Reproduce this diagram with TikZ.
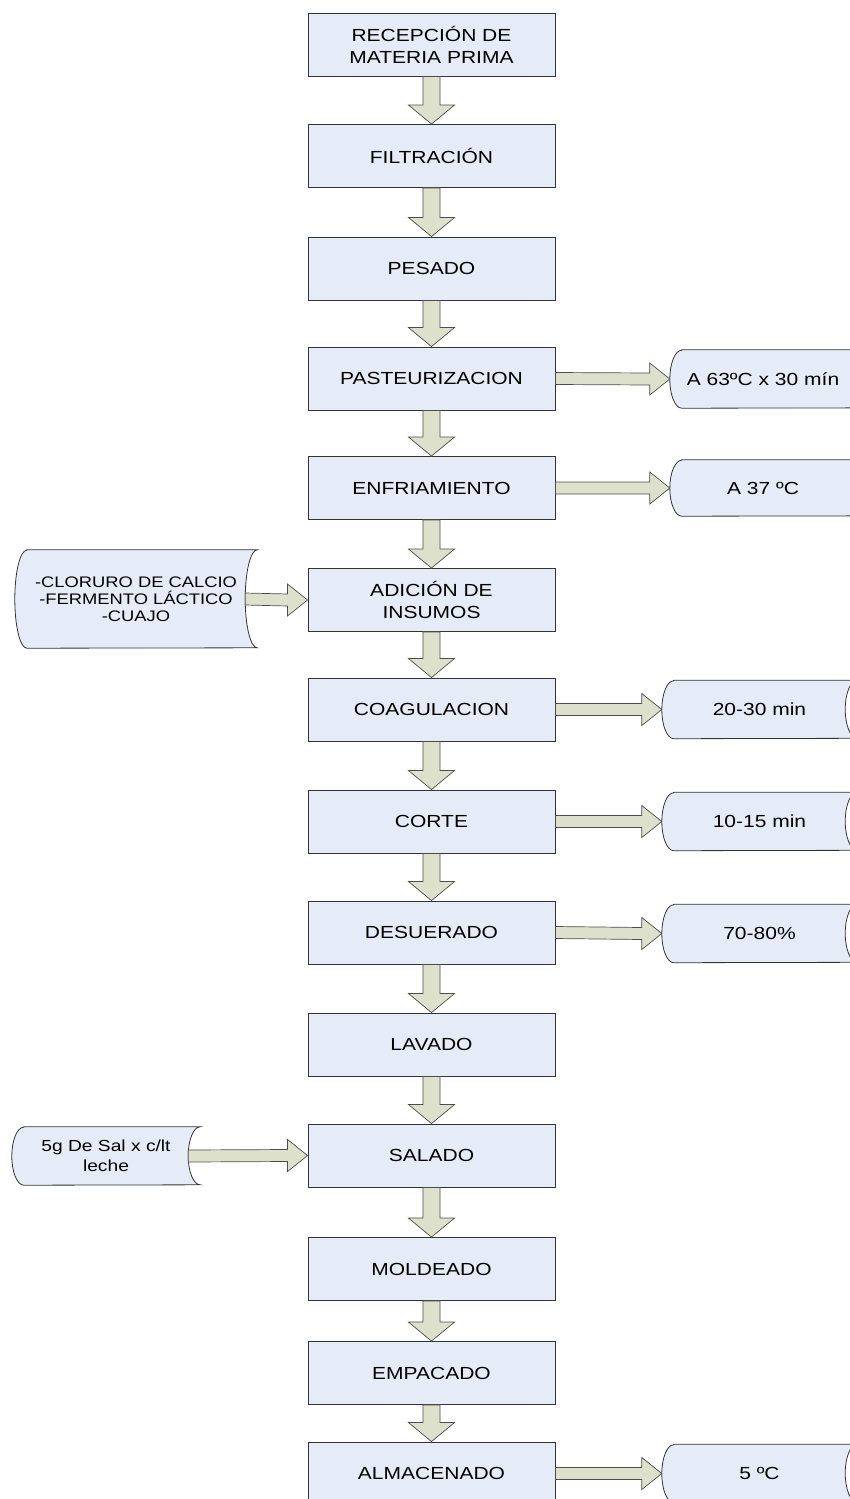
\documentclass[tikz,border=0pt]{standalone}
\usepackage{fontspec}
\setmainfont{Liberation Sans}[FakeStretch=1.2]
\usepackage{tikz}
\usetikzlibrary{positioning, calc, backgrounds}
\definecolor{boxfill}{HTML}{E6ECF7}
\definecolor{boxline}{HTML}{333333}
\definecolor{arrowfill}{HTML}{DDE1CB}
\definecolor{arrowline}{HTML}{4D4D4D}
\tikzset{
  procbox/.style={draw=boxline, line width=0.9pt, fill=boxfill, minimum width=247pt,
    minimum height=63pt, inner sep=0pt, align=center, font=\fontsize{17.5}{22}\selectfont},
  storetext/.style={inner sep=0pt, align=center, font=\fontsize{17.5}{22}\selectfont},
  storebox/.style={draw=boxline, line width=0.8pt, fill=boxfill},
  blockarrow/.style={draw=arrowline, line width=0.7pt, fill=arrowfill, line join=miter}
}
\newcommand{\flowdown}[2]{%
  \draw[blockarrow] ($(#1.south)+(-8.5,0)$) -- ($(#2.north)+(-8.5,19)$) -- ($(#2.north)+(-23,19)$)
    -- (#2.north) -- ($(#2.north)+(23,19)$) -- ($(#2.north)+(8.5,19)$) -- ($(#1.south)+(8.5,0)$) -- cycle;}
\newcommand{\flowright}[2]{%
  \draw[blockarrow] ($(#1)+(0,6)$) -- ($(#2)+(-20,6)$) -- ($(#2)+(-20,16)$) -- (#2)
    -- ($(#2)+(-20,-16)$) -- ($(#2)+(-20,-6)$) -- ($(#1)+(0,-6)$) -- cycle;}
\newcommand{\storenode}[7][]{%
  \node[storetext, #1, minimum width=#4pt, minimum height=#5pt] (#2) at (#3) {#6};
  \begin{pgfonlayer}{background}
    \draw[storebox] ($(#2.north west)+(12,0)$) -- ($(#2.north east)+(#7,0)$)
      arc[start angle=90, end angle=270, x radius=12, y radius=#5/2]
      -- ($(#2.south west)+(12,0)$)
      arc[start angle=270, end angle=90, x radius=12, y radius=#5/2] -- cycle;
  \end{pgfonlayer}}

\begin{document}
\begin{tikzpicture}[x=1pt, y=1pt]
  \useasboundingbox (0,0) rectangle (850,-1499);
  \clip (0,0) rectangle (850,-1499);

  \node[procbox] (recep) at (431.5,-44.5) {RECEPCIÓN DE\\MATERIA PRIMA};
  \node[procbox] (filt) at (431.5,-156) {FILTRACIÓN};
  \node[procbox] (pesado) at (431.5,-268.5) {PESADO};
  \node[procbox] (past) at (431.5,-378.5) {PASTEURIZACION};
  \node[procbox] (enfr) at (431.5,-488) {ENFRIAMIENTO};
  \node[procbox] (adic) at (431.5,-600) {ADICIÓN DE\\INSUMOS};
  \node[procbox] (coag) at (431.5,-709.5) {COAGULACION};
  \node[procbox] (corte) at (431.5,-821.5) {CORTE};
  \node[procbox] (desu) at (431.5,-932.5) {DESUERADO};
  \node[procbox] (lavado) at (431.5,-1044.5) {LAVADO};
  \node[procbox] (salado) at (431.5,-1155.5) {SALADO};
  \node[procbox] (molde) at (431.5,-1269) {MOLDEADO};
  \node[procbox] (empac) at (431.5,-1373) {EMPACADO};
  \node[procbox] (almac) at (431.5,-1473.5) {ALMACENADO};

  \foreach \a/\b in {recep/filt, filt/pesado, pesado/past, past/enfr, enfr/adic, adic/coag,
      coag/corte, corte/desu, desu/lavado, lavado/salado, salado/molde, molde/empac, empac/almac}
    \flowdown{\a}{\b};

  \storenode{pastout}{763,-379}{186}{58}{A 63ºC x 30 mín}{40}
  \storenode{enfrout}{763,-488}{186}{56}{A 37 ºC}{40}
  \storenode{coagout}{759.5,-709.5}{195}{58}{20-30 min}{0}
  \storenode{corteout}{759.5,-821.5}{195}{58}{10-15 min}{0}
  \storenode{desuout}{759.5,-933.5}{195}{58}{70-80\%}{0}
  \storenode{almout}{759.5,-1473.5}{195}{58}{5 ºC}{0}
  \storenode[font=\fontsize{15.3}{17}\selectfont]{insumos}{136,-599}{242}{98}%
    {-CLORURO DE CALCIO\\-FERMENTO LÁCTICO\\-CUAJO}{0}
  \storenode[font=\fontsize{16}{20}\selectfont]{sal}{106,-1156}{188}{58}%
    {5g De Sal x c/lt\\leche}{0}

  \coordinate (insumosR) at ($(insumos.east)+(-12,0)$);
  \coordinate (salR) at ($(sal.east)+(-12,0)$);
  \flowright{past.east}{pastout.west}
  \flowright{enfr.east}{enfrout.west}
  \flowright{coag.east}{coagout.west}
  \flowright{corte.east}{corteout.west}
  \flowright{desu.east}{desuout.west}
  \flowright{almac.east}{almout.west}
  \flowright{insumosR}{adic.west}
  \flowright{salR}{salado.west}
\end{tikzpicture}
\end{document}
